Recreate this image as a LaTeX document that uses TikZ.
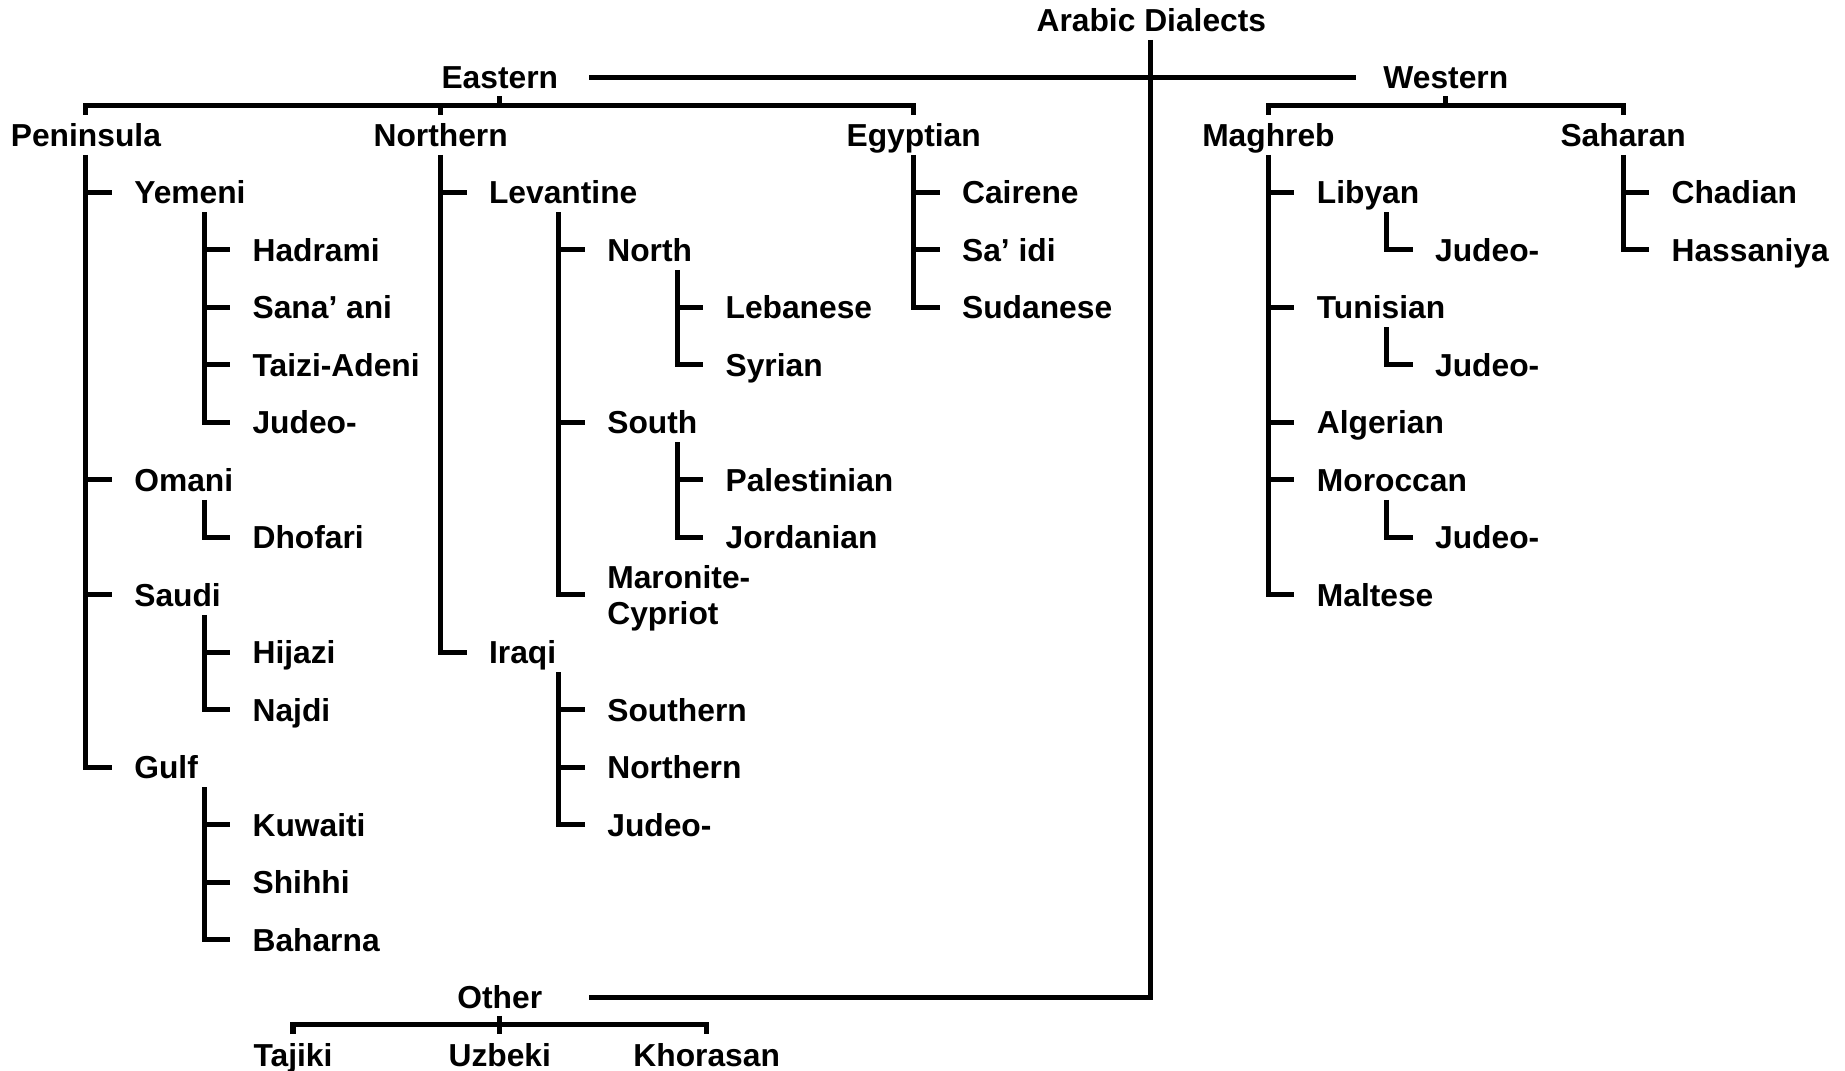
\documentclass[tikz,border=0pt]{standalone}
\usepackage{fontspec}
\setmainfont{Liberation Sans}
\usetikzlibrary{calc}
% row r of the tree sits at y = 163 + 48.85 r (y grows downward)
\def\ry#1{(163.5+48.85*(#1))}
\begin{document}
\begin{tikzpicture}[x=0.5pt,y=-0.5pt,
  line width=2.15pt, line cap=butt, line join=miter,
  txt/.style={font=\fontsize{13.5}{15.5}\selectfont\bfseries, inner sep=0pt,
              text height=9.7pt, text depth=0pt},
  hdr/.style={txt, anchor=center},
  lbl/.style={txt, anchor=west, xshift=-1pt},
  mlbl/.style={lbl, align=left, text height={}}]

\path[use as bounding box, fill=white] (0,0) rectangle (1568,910);

% ---------- headings ----------
\node[hdr] (AD)        at (978.5,{\ry{-3}})  {Arabic Dialects};
\node[hdr] (Eastern)   at (424.75,{\ry{-2}}) {Eastern};
\node[hdr] (Western)   at (1228.75,{\ry{-2}}) {Western};
\node[hdr] (Peninsula) at (73,{\ry{-1}})     {Peninsula};
\node[hdr] (Northern)  at (374.5,{\ry{-1}})  {Northern};
\node[hdr] (Egyptian)  at (776.5,{\ry{-1}})  {Egyptian};
\node[hdr] (Maghreb)   at (1078,{\ry{-1}})   {Maghreb};
\node[hdr] (Saharan)   at (1379.5,{\ry{-1}}) {Saharan};
\node[hdr] (Other)     at (424.75,{\ry{14}}) {Other};
\node[hdr] (Tajiki)    at (249,{\ry{15}})    {Tajiki};
\node[hdr] (Uzbeki)    at (424.75,{\ry{15}}) {Uzbeki};
\node[hdr] (Khorasan)  at (600.6,{\ry{15}})  {Khorasan};

% ---------- Peninsula ----------
\node[lbl] (Yemeni)   at (114,{\ry{0}})  {Yemeni};
\node[lbl] (Omani)    at (114,{\ry{5}})  {Omani};
\node[lbl] (Saudi)    at (114,{\ry{7}})  {Saudi};
\node[lbl] (Gulf)     at (114,{\ry{10}}) {Gulf};
\node[lbl] (Hadrami)  at (214.5,{\ry{1}})  {Hadrami};
\node[lbl] (Sanaani)  at (214.5,{\ry{2}})  {Sana’ ani};
\node[lbl] (Taizi)    at (214.5,{\ry{3}})  {Taizi-Adeni};
\node[lbl] (JudeoY)   at (214.5,{\ry{4}})  {Judeo-};
\node[lbl] (Dhofari)  at (214.5,{\ry{6}})  {Dhofari};
\node[lbl] (Hijazi)   at (214.5,{\ry{8}})  {Hijazi};
\node[lbl] (Najdi)    at (214.5,{\ry{9}})  {Najdi};
\node[lbl] (Kuwaiti)  at (214.5,{\ry{11}}) {Kuwaiti};
\node[lbl] (Shihhi)   at (214.5,{\ry{12}}) {Shihhi};
\node[lbl] (Baharna)  at (214.5,{\ry{13}}) {Baharna};

% ---------- Northern ----------
\node[lbl] (Levantine)   at (415.5,{\ry{0}}) {Levantine};
\node[lbl] (Iraqi)       at (415.5,{\ry{8}}) {Iraqi};
\node[lbl] (North)       at (516,{\ry{1}})   {North};
\node[lbl] (South)       at (516,{\ry{4}})   {South};
\node[mlbl,text depth=0pt] (Maronite) at (516,{\ry{7}}) {Maronite-\\Cypriot};
\node[lbl] (Lebanese)    at (616.5,{\ry{2}}) {Lebanese};
\node[lbl] (Syrian)      at (616.5,{\ry{3}}) {Syrian};
\node[lbl] (Palestinian) at (616.5,{\ry{5}}) {Palestinian};
\node[lbl] (Jordanian)   at (616.5,{\ry{6}}) {Jordanian};
\node[lbl] (SouthernI)   at (516,{\ry{9}})   {Southern};
\node[lbl] (NorthernI)   at (516,{\ry{10}})  {Northern};
\node[lbl] (JudeoI)      at (516,{\ry{11}})  {Judeo-};

% ---------- Egyptian ----------
\node[lbl] (Cairene)  at (817.5,{\ry{0}}) {Cairene};
\node[lbl] (Saidi)    at (817.5,{\ry{1}}) {Sa’ idi};
\node[lbl] (Sudanese) at (817.5,{\ry{2}}) {Sudanese};

% ---------- Maghreb ----------
\node[lbl] (Libyan)   at (1119,{\ry{0}}) {Libyan};
\node[lbl] (Tunisian) at (1119,{\ry{2}}) {Tunisian};
\node[lbl] (Algerian) at (1119,{\ry{4}}) {Algerian};
\node[lbl] (Moroccan) at (1119,{\ry{5}}) {Moroccan};
\node[lbl] (Maltese)  at (1119,{\ry{7}}) {Maltese};
\node[lbl] (JudeoL)   at (1219.5,{\ry{1}}) {Judeo-};
\node[lbl] (JudeoT)   at (1219.5,{\ry{3}}) {Judeo-};
\node[lbl] (JudeoM)   at (1219.5,{\ry{6}}) {Judeo-};

% ---------- Saharan ----------
\node[lbl] (Chadian)   at (1420.5,{\ry{0}}) {Chadian};
\node[lbl] (Hassaniya) at (1420.5,{\ry{1}}) {Hassaniya};

% ---------- tops of the vertical trunks ----------
\foreach \p in {Peninsula,Northern,Egyptian,Maghreb,Saharan}
  \coordinate (\p-v) at ($(\p.center)+(0,17)$);
\foreach \p in {Yemeni,Omani,Saudi,Gulf,Levantine,North,South,Iraqi,Libyan,Tunisian,Moroccan}
  \coordinate (\p-v) at ($(\p.west)+(61.5,17)$);

% ---------- trunk-and-tick connectors ----------
\foreach \top/\kids/\last in {
    Peninsula-v/{Yemeni,Omani,Saudi}/Gulf,
    Yemeni-v/{Hadrami,Sanaani,Taizi}/JudeoY,
    Saudi-v/{Hijazi}/Najdi,
    Gulf-v/{Kuwaiti,Shihhi}/Baharna,
    Northern-v/{Levantine}/Iraqi,
    Levantine-v/{North,South}/Maronite,
    North-v/{Lebanese}/Syrian,
    South-v/{Palestinian}/Jordanian,
    Iraqi-v/{SouthernI,NorthernI}/JudeoI,
    Egyptian-v/{Cairene,Saidi}/Sudanese,
    Maghreb-v/{Libyan,Tunisian,Algerian,Moroccan}/Maltese,
    Saharan-v/{Chadian}/Hassaniya}{
  \foreach \ch in \kids
    \draw (\top |- \ch.west) -- ($(\ch.west)+(-17,0)$);
  \draw (\top) |- ($(\last.west)+(-17,0)$);
}
\draw (Omani-v)    |- ($(Dhofari.west)+(-17,0)$);
\draw (Libyan-v)   |- ($(JudeoL.west)+(-17,0)$);
\draw (Tunisian-v) |- ($(JudeoT.west)+(-17,0)$);
\draw (Moroccan-v) |- ($(JudeoM.west)+(-17,0)$);

% ---------- main spine ----------
\draw ($(AD.center)+(-0.5,17)$) |- ($(Other.center)+(76,0)$);
\draw ($(Eastern.center)+(76,0)$) -- ($(Western.center)+(-76,0)$);

% ---------- brackets under the group headings ----------
\coordinate (eb) at ($(Eastern.center)+(0,24)$);
\draw ($(Peninsula.center)+(0,-17)$) -- (Peninsula.center |- eb)
      -- (Egyptian.center |- eb) -- ($(Egyptian.center)+(0,-17)$);
\draw (Northern.center |- eb) -- ($(Northern.center)+(0,-17)$);
\draw (eb) -- ($(Eastern.center)+(0,16)$);

\coordinate (wb) at ($(Western.center)+(0,24)$);
\draw ($(Maghreb.center)+(0,-17)$) -- (Maghreb.center |- wb)
      -- (Saharan.center |- wb) -- ($(Saharan.center)+(0,-17)$);
\draw (wb) -- ($(Western.center)+(0,16)$);

\coordinate (ob) at ($(Other.center)+(0,23.5)$);
\draw ($(Tajiki.center)+(0,-17.5)$) -- (Tajiki.center |- ob)
      -- (Khorasan.center |- ob) -- ($(Khorasan.center)+(0,-17.5)$);
\draw ($(Other.center)+(0,16)$) -- ($(Uzbeki.center)+(0,-17.5)$);
\end{tikzpicture}
\end{document}
